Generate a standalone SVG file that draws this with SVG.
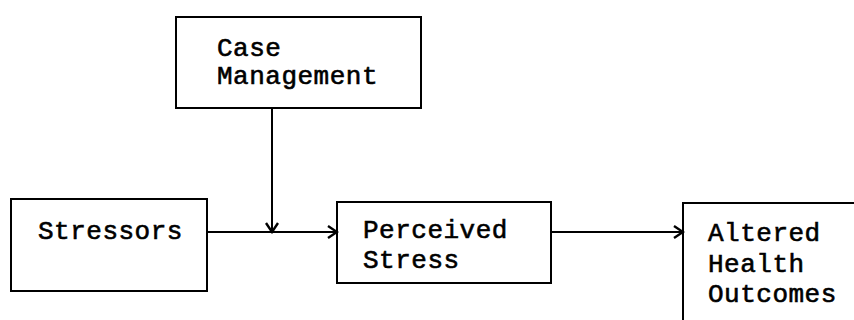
<svg xmlns="http://www.w3.org/2000/svg" width="854" height="320" viewBox="0 0 854 320">
<style>
.box{fill:#fff;stroke:#000;stroke-width:2}
.t{font-family:"Liberation Mono","Courier New",monospace;font-size:26px;letter-spacing:0.5px;fill:#000;stroke:#000;stroke-width:0.6}
.c{fill:none;stroke:#000;stroke-width:2}
</style>
<defs>
<marker id="ah" markerWidth="14" markerHeight="14" refX="12" refY="7" orient="auto" markerUnits="userSpaceOnUse">
<path d="M3,1 L12,7 L3,13" fill="none" stroke="#000" stroke-width="2.4"/>
</marker>
</defs>
<rect width="854" height="320" fill="#fff"/>
<g id="case-management">
<rect class="box" x="176" y="17" width="245" height="91"/>
<text class="t" x="217" y="56">Case</text>
<text class="t" x="217" y="84">Management</text>
</g>
<g id="stressors">
<rect class="box" x="11" y="199" width="196" height="92"/>
<text class="t" x="38" y="239">Stressors</text>
</g>
<g id="perceived-stress">
<rect class="box" x="337" y="202" width="214" height="81"/>
<text class="t" x="363" y="238">Perceived</text>
<text class="t" x="363" y="268">Stress</text>
</g>
<g id="altered-health-outcomes">
<rect class="box" x="683" y="203" width="190" height="140"/>
<text class="t" x="708" y="241">Altered</text>
<text class="t" x="708" y="272">Health</text>
<text class="t" x="708" y="302">Outcomes</text>
</g>
<g id="connectors">
<line class="c" x1="272" y1="108" x2="272" y2="232" marker-end="url(#ah)"/>
<line class="c" x1="207" y1="232" x2="337" y2="232" marker-end="url(#ah)"/>
<line class="c" x1="551" y1="232" x2="683" y2="232" marker-end="url(#ah)"/>
</g>
</svg>
